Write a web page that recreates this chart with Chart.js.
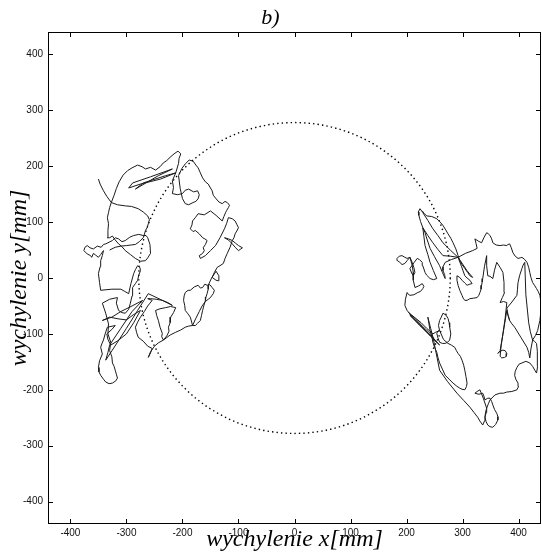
<!DOCTYPE html>
<html>
<head>
<meta charset="utf-8">
<script src="https://cdn.jsdelivr.net/npm/chart.js@4"></script>
<style>
  html, body { margin: 0; padding: 0; background: #fff; }
  #wrap { width: 542px; height: 553px; }
</style>
</head>
<body>
<div id="wrap"><canvas id="c" width="542" height="553"></canvas></div>
<script>
/* ---- data (mm) ---- */
var axisMin = -440, axisMax = 440;
var tickValues = [-400, -300, -200, -100, 0, 100, 200, 300, 400];

// reference circle: centre and radius
var circleCentre = [0, 0];
var circleRadius = 278;

// sway trajectory, left stance
var leftPath = [
  [-350,177],[-347,168],[-341,156],[-335,146],[-327,135],
  [-322,148],[-318,160],[-313,172],[-306,184],[-298,192],[-290,197],[-280,202],[-272,199],[-266,195],[-257,198],[-248,193],[-240,199],[-234,206],[-228,210],[-222,216],[-215,222],[-208,227],[-203,222],[-206,214],[-207,205],[-212,188],
  [-239,177],[-275,168],[-296,161],[-289,170],[-257,181],[-218,195],[-243,183],[-284,159],[-270,170],[-230,183],[-212,188],
  [-218,174],[-216,162],[-218,151],[-209,149],[-200,151],[-195,157],[-189,159],[-180,154],[-173,156],[-170,149],[-172,142],[-176,137],[-181,135],[-189,131],[-195,133],[-200,142],[-204,160],[-207,183],[-201,196],[-195,204],
  [-188,211],[-181,209],[-176,202],[-172,197],[-168,188],[-164,179],[-159,172],[-154,168],[-150,161],[-147,156],[-145,148],[-141,143],[-135,136],[-129,133],[-124,137],[-120,135],[-116,130],[-118,126],[-121,121],[-123,117],[-126,110],[-129,102],
  [-140,112],[-150,120],[-161,113],[-172,115],[-177,108],[-182,102],[-183,95],[-186,88],[-181,83],[-177,85],[-170,79],[-164,72],[-160,70],[-156,67],[-159,60],[-163,54],[-161,49],[-164,44],[-170,40],[-168,35],[-159,40],[-150,49],[-141,58],[-133,72],[-125,88],[-121,98],[-118,108],
  [-111,106],[-106,102],[-103,96],[-100,90],[-103,84],[-106,79],[-108,72],[-111,67],[-105,62],[-100,58],[-93,54],[-97,51],[-100,49],[-106,55],[-111,61],[-118,68],[-125,72],[-118,70],[-111,67],
  [-115,55],[-120,44],[-124,35],[-127,26],[-133,22],[-138,19],[-143,10],[-147,1],[-140,-4],[-136,-5],[-135,4],[-140,12],[-148,0],[-154,-13],[-154,-20],[-156,-28],[-158,-34],[-159,-40],[-162,-50],[-164,-58],[-166,-67],[-168,-76],[-173,-81],[-177,-85],[-182,-85],
  [-184,-77],[-186,-70],[-191,-63],[-195,-58],[-196,-49],[-198,-40],[-197,-32],[-195,-26],[-190,-22],[-186,-22],[-179,-16],[-172,-13],[-168,-18],[-164,-17],[-160,-11],[-156,-13],[-151,-12],[-147,-17],[-143,-22],[-145,-28],[-148,-32],[-150,-35],[-154,-38],[-159,-42],[-165,-50],[-170,-60],[-176,-72],[-182,-85],
  [-189,-86],[-195,-88],[-203,-93],[-212,-97],[-222,-102],[-234,-111],[-237,-105],[-236,-99],[-240,-88],[-243,-76],[-246,-67],[-248,-58],[-240,-55],[-230,-53],[-221,-51],[-212,-53],[-216,-62],[-221,-70],[-222,-80],[-225,-88],[-224,-95],[-227,-102],[-230,-106],[-234,-111],
  [-243,-116],[-250,-122],[-257,-132],[-261,-142],[-257,-134],[-254,-126],[-258,-124],[-262,-122],[-270,-113],[-279,-106],[-282,-97],[-284,-88],[-280,-79],[-275,-70],[-268,-60],[-262,-50],[-258,-45],[-254,-40],[-262,-37],[-257,-37],[-247,-38],[-236,-40],[-226,-44],[-218,-49],
  [-240,-38],[-261,-28],[-280,-58],[-300,-90],[-318,-118],[-337,-147],[-333,-133],[-330,-120],[-310,-90],[-290,-60],[-271,-40],[-290,-50],[-310,-60],[-326,-70],[-343,-76],[-330,-70],[-315,-73],[-300,-75],[-288,-66],[-275,-58],[-287,-80],[-300,-100],[-315,-112],[-328,-120],[-333,-110],[-335,-100],[-326,-92],[-320,-85],
  [-334,-88],[-338,-100],[-341,-111],[-344,-118],[-346,-124],[-343,-136],[-348,-148],[-350,-160],[-349,-168],[-346,-174],[-341,-181],[-337,-186],[-331,-189],[-325,-188],[-319,-184],[-316,-179],[-318,-172],[-320,-165],[-322,-158],[-325,-152],[-326,-141],[-330,-130],[-328,-115],[-333,-100],[-332,-82],[-337,-63],[-340,-54],[-343,-45],
  [-330,-38],[-316,-35],[-318,-45],[-314,-58],[-308,-62],[-302,-63],[-296,-56],[-293,-45],[-290,-32],[-289,-17],[-284,-10],[-280,-4],[-278,5],[-275,13],[-276,19],[-280,22],[-284,15],[-287,8],[-292,-10],[-296,-28],[-303,-24],[-310,-20],[-326,-20],
  [-346,-22],[-348,-8],[-350,8],[-347,20],[-346,31],[-343,40],[-341,49],
  [-346,42],[-350,37],[-355,41],[-359,44],[-362,37],[-364,40],[-370,43],[-376,49],[-374,55],[-370,58],[-365,54],[-359,52],[-352,57],[-345,55],[-341,60],[-337,61],[-331,64],[-325,67],[-320,72],[-314,70],[-308,65],[-302,67],[-294,73],[-287,76],[-278,78],[-270,76],
  [-265,76],[-262,72],[-258,60],[-257,44],[-262,36],[-266,31],[-275,30],[-284,35],[-293,42],[-302,49],[-308,56],[-314,61],[-320,68],[-325,75],
  [-330,72],[-334,72],[-333,85],[-332,97],[-334,108],[-332,117],[-330,126],[-327,135],
  [-316,131],[-302,129],[-291,128],[-279,124],[-270,118],[-262,111],[-259,104],[-261,97],[-263,90],[-266,85],[-268,78],[-270,72],[-277,65],[-284,60],[-292,59],[-300,58],[-310,57],[-320,55],[-330,50]
];

// sway trajectory, right stance
var rightPath = [
  [228,120],[231,116],[236,111],[245,110],[254,106],[260,100],[265,94],[270,86],[274,79],[279,71],[283,63],[288,52],[292,40],[295,31],[299,24],[304,17],[309,10],[313,4],[318,1],[313,7],[308,13],[300,25],[292,37],
  [278,50],[265,63],[256,76],[247,88],[238,103],[229,117],[224,124],[221,118],[222,112],[225,101],[229,90],[238,76],[247,63],[256,51],[265,40],[278,39],[292,37],
  [280,33],[269,28],[265,20],[265,13],[268,6],[269,-1],[264,10],[259,22],[250,38],[242,53],[237,68],[233,81],[229,90],
  [231,74],[233,58],[238,42],[242,28],[248,13],[254,-1],[248,-3],[242,-1],[236,5],[233,10],[231,16],[229,22],[228,28],[223,33],[219,35],[213,27],[206,17],[209,9],[212,4],[215,10],[213,19],[210,28],[206,37],[201,31],[197,26],[192,24],[188,28],[184,31],[183,35],[187,39],[192,40],[197,37],[201,35],[206,37],
  [210,23],[212,10],[212,-4],[215,-17],[222,-14],[228,-10],[231,-15],[229,-19],[225,-24],[220,-26],[213,-30],[206,-31],[203,-29],[201,-26],[198,-38],[197,-49],
  [201,-58],[212,-72],[224,-85],[240,-100],[254,-115],[243,-104],[233,-94],[219,-80],[206,-67],[210,-68],[215,-72],[228,-86],[242,-99],[250,-110],[259,-120],[244,-105],[230,-90],[220,-79],[210,-70],[204,-62],[215,-71],[226,-80],[236,-90],[247,-100],[252,-97],
  [259,-94],[257,-85],[259,-76],[262,-70],[265,-63],[270,-66],[274,-72],[276,-80],[277,-88],[279,-100],[277,-111],[273,-115],[269,-117],[264,-117],[259,-115],[256,-107],[254,-99],[256,-95],[259,-94],
  [266,-110],[274,-117],[280,-120],[286,-124],[289,-130],[292,-135],[296,-140],[299,-147],[302,-156],[304,-165],[306,-176],[308,-188],[307,-194],[304,-200],
  [299,-199],[295,-197],[289,-193],[283,-188],[276,-181],[269,-174],[264,-163],[259,-152],[256,-142],[254,-133],[250,-124],[247,-115],[245,-104],[242,-94],[240,-82],[238,-70],
  [243,-90],[247,-105],[252,-130],[259,-165],[273,-185],[290,-206],[302,-219],[313,-231],[320,-240],[327,-249],[331,-256],[336,-263],
  [339,-256],[340,-249],[342,-241],[343,-233],[337,-215],[331,-200],[326,-203],[322,-206],[329,-208],[336,-206],[338,-211],[340,-218],[345,-215],[349,-215],[352,-221],[354,-227],[357,-235],[361,-242],[363,-248],[363,-254],[359,-262],[354,-267],[349,-266],[345,-263],[342,-257],[340,-249],[341,-240],[343,-233],[346,-225],[349,-218],
  [358,-209],[367,-206],[373,-206],[379,-204],[388,-203],[397,-200],[400,-194],[399,-188],[395,-181],[393,-174],[394,-167],[397,-160],[401,-154],[406,-152],[413,-149],[420,-152],[425,-158],[429,-165],[432,-170],
  [434,-158],[434,-147],[433,-131],[432,-117],[428,-113],[425,-111],[422,-127],[420,-143],[418,-133],[415,-124],[404,-106],[393,-88],[388,-82],[384,-76],[381,-67],[379,-58],
  [373,-95],[367,-130],[363,-135],[367,-131],[372,-129],[376,-130],[379,-135],[378,-140],[375,-142],[370,-143],[367,-140],
  [369,-120],[372,-100],[376,-72],[379,-44],[373,-42],[367,-44],[371,-35],[375,-26],[374,-8],[372,10],[367,19],[361,28],[357,14],[354,-1],[349,3],[345,4],[343,22],[343,40],
  [339,20],[336,-1],[335,-7],[334,-13],[333,-20],[331,-26],[329,-31],[326,-35],[320,-36],[313,-37],[308,-40],[304,-40],[301,-36],[299,-31],[295,-22],[292,-13],[290,-4],[290,4],[295,1],[299,-4],[304,-9],[308,-13],[313,-11],[317,-10],[315,-7],[313,-4],[308,0],[304,4],
  [298,21],[292,37],[305,44],[318,49],[322,51],[326,53],[324,62],[322,70],[328,66],[334,63],[338,72],[343,81],
  [346,79],[349,76],[352,70],[354,63],[360,59],[367,58],[373,59],[379,58],[381,60],[384,61],[387,54],[390,45],[394,39],[399,35],[403,36],[406,37],[411,33],[415,28],[418,19],[420,10],[422,1],[425,-8],[429,-14],[432,-19],[435,-24],[438,-31],[440,-44],[440,-58],[438,-76],[434,-94],[430,-103],[425,-111],[421,-96],[418,-80],
  [413,-30],[411,28],[408,23],[406,17],[402,5],[399,-8],[398,-20],[397,-31],[388,-43],[379,-54],[381,-65],[384,-76]
];

/* ---- helpers ---- */
function toPoints(arr) {
  return arr.map(function (p) { return { x: p[0], y: p[1] }; });
}

var serif = "'Liberation Serif', 'Times New Roman', serif";
var sans = "'Liberation Sans', Arial, sans-serif";

// dotted reference circle, drawn through the scales
var circlePlugin = {
  id: "circle",
  beforeDatasetsDraw: function (chart) {
    var ctx = chart.ctx, x = chart.scales.x, y = chart.scales.y;
    var cx = x.getPixelForValue(circleCentre[0]);
    var cy = y.getPixelForValue(circleCentre[1]);
    var rx = Math.abs(x.getPixelForValue(circleCentre[0] + circleRadius) - cx);
    var ry = Math.abs(y.getPixelForValue(circleCentre[1] + circleRadius) - cy);
    ctx.save();
    ctx.strokeStyle = "#000";
    ctx.lineWidth = 1.4;
    ctx.setLineDash([1.4, 3.1]);
    ctx.beginPath();
    ctx.ellipse(cx, cy, rx, ry, 0, 0, Math.PI * 2);
    ctx.stroke();
    ctx.restore();
  }
};

// MATLAB-style box with inward ticks on all four sides
var framePlugin = {
  id: "frame",
  afterDatasetsDraw: function (chart) {
    var ctx = chart.ctx, a = chart.chartArea, x = chart.scales.x, y = chart.scales.y;
    var len = 5;
    ctx.save();
    ctx.strokeStyle = "#000";
    ctx.lineWidth = 1;
    ctx.strokeRect(Math.round(a.left) + 0.5, Math.round(a.top) + 0.5,
                   Math.round(a.right - a.left) - 1, Math.round(a.bottom - a.top) - 1);
    ctx.beginPath();
    x.ticks.forEach(function (t) {
      var p = Math.round(x.getPixelForValue(t.value)) + 0.5;
      ctx.moveTo(p, a.bottom); ctx.lineTo(p, a.bottom - len);
      ctx.moveTo(p, a.top);    ctx.lineTo(p, a.top + len);
    });
    y.ticks.forEach(function (t) {
      var p = Math.round(y.getPixelForValue(t.value)) + 0.5;
      ctx.moveTo(a.left, p);  ctx.lineTo(a.left + len, p);
      ctx.moveTo(a.right, p); ctx.lineTo(a.right - len, p);
    });
    ctx.stroke();
    ctx.restore();
  }
};

function axis(titleText, fitSize, horizontal) {
  return {
    type: "linear",
    min: axisMin,
    max: axisMax,
    afterBuildTicks: function (s) {
      s.ticks = tickValues.map(function (v) { return { value: v }; });
    },
    afterFit: function (s) {
      if (horizontal) s.height = fitSize; else s.width = fitSize;
    },
    grid: { display: false, drawTicks: false },
    border: { display: false },
    ticks: {
      color: "#111",
      font: { family: sans, size: 10 },
      padding: horizontal ? 3 : 5,
      autoSkip: false,
      maxRotation: 0
    },
    title: {
      display: true,
      text: titleText,
      color: "#000",
      font: { family: serif, style: "italic", size: 24, lineHeight: 1 },
      padding: horizontal ? { top: 0, bottom: 1 } : { top: 8, bottom: 0 }
    }
  };
}

new Chart(document.getElementById("c"), {
  type: "scatter",
  data: {
    datasets: [
      { data: toPoints(leftPath), showLine: true, borderColor: "#1a1a1a", borderWidth: 1, pointRadius: 0, tension: 0, fill: false },
      { data: toPoints(rightPath), showLine: true, borderColor: "#1a1a1a", borderWidth: 1, pointRadius: 0, tension: 0, fill: false }
    ]
  },
  options: {
    responsive: false,
    animation: false,
    devicePixelRatio: 1,
    layout: { padding: { top: 0, right: 1, bottom: 0, left: 0 } },
    plugins: {
      legend: { display: false },
      tooltip: { enabled: false },
      title: {
        display: true,
        text: "b)",
        color: "#000",
        font: { family: serif, style: "italic", weight: "normal", size: 22, lineHeight: 1 },
        padding: { top: 7, bottom: 3 }
      }
    },
    scales: {
      x: axis("wychylenie x[mm]", 29, true),
      y: axis("wychylenie y[mm]", 48, false)
    }
  },
  plugins: [circlePlugin, framePlugin]
});
</script>
</body>
</html>
